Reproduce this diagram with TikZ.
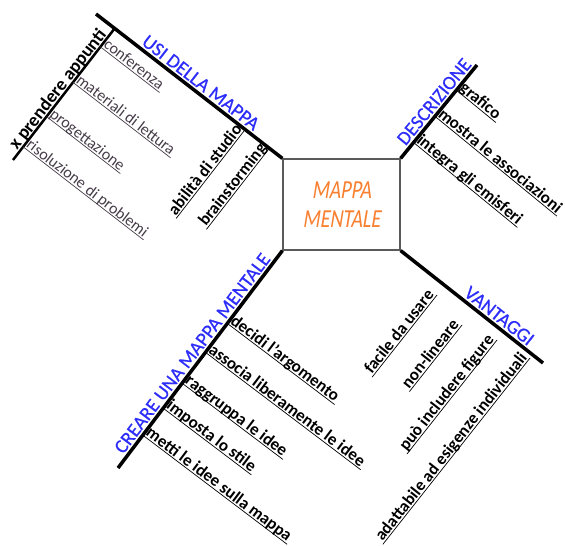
\documentclass[tikz,border=0pt]{standalone}
\usepackage{fontspec}
\setmainfont{Carlito}
\newfontfamily\corsivo[FakeSlant=0.21]{Carlito}
\newfontfamily\titfont[FakeBold=0.5]{Carlito}
\usetikzlibrary{calc}
\definecolor{blu}{RGB}{45,45,250}
\definecolor{arancio}{RGB}{248,128,48}
\definecolor{grigio}{RGB}{70,60,72}
\definecolor{bordo}{RGB}{90,90,90}
\newcommand{\altezza}[1]{\scalebox{1}[1.3]{#1}}
\tikzset{
ramo/.style={line width=3.5pt},
titolo/.style={text=blu,font=\titfont\fontsize{19.5}{20}\selectfont,anchor=south,inner sep=3.5pt,text depth=0pt},
voce/.style={font=\bfseries\fontsize{17}{18}\selectfont,inner sep=1.5pt,text depth=0pt,
  append after command={(\tikzlastnode.south west) edge[draw=#1,line width=.7pt] (\tikzlastnode.south east)}},
voce/.default=black,
voce2/.style={voce=grigio,font=\fontsize{16}{17}\selectfont,text=grigio}
}
\begin{document}
\begin{tikzpicture}[x=1pt,y=1pt]
\useasboundingbox (0,0) rectangle (565,546);
\node[draw=bordo,line width=1.2pt,minimum width=117pt,minimum height=91pt,text=arancio,
  font=\corsivo\fontsize{20}{29}\selectfont,align=center] (centro) at (341.5,341.5) {\altezza{MAPPA}\\\altezza{MENTALE}};
\coordinate (usi) at (96,532);
\coordinate (descr) at (477,481);
\coordinate (vant) at (543,183);
\coordinate (crea) at (118,78);
\draw[ramo] (centro.north west)--(usi);
\draw[ramo] (centro.north east)--(descr);
\draw[ramo] (centro.south east)--(vant);
\draw[ramo] (centro.south west)--(crea);
\node[titolo,rotate=-37.8] (tusi) at ($(usi)!.53!(centro.north west)$) {USI DELLA MAPPA};
\node[titolo,rotate=50.7] (tdescr) at ($(centro.north east)!.54!(descr)$) {DESCRIZIONE};
\node[titolo,rotate=-38.3] (tvant) at ($(centro.south east)!.65!(vant)$) {VANTAGGI};
\node[titolo,rotate=52.9] (tcrea) at ($(centro.south west)!.5!(crea)$) {CREARE UNA MAPPA MENTALE};
\coordinate (app1) at ($(usi)!.1!(centro.north west)$);
\coordinate (app2) at (13,386);
\draw[line width=2.5pt] (app1)--(app2);
\node[font=\bfseries\fontsize{18.5}{19}\selectfont,anchor=south,rotate=52.3,inner sep=2pt,text depth=0pt] (appunti) at ($(app1)!.5!(app2)$) {x prendere appunti};
\node[voce2,anchor=south west,rotate=-37.7] (conf) at ($(app1)!.14!(app2)$) {conferenza};
\node[voce2,anchor=south west,rotate=-37.7] (mat) at ($(app1)!.41!(app2)$) {materiali di lettura};
\node[voce2,anchor=south west,rotate=-37.7] (prog) at ($(app1)!.67!(app2)$) {progettazione};
\node[voce2,anchor=south west,rotate=-37.7] (ris) at ($(app1)!.90!(app2)$) {risoluzione di problemi};
\node[voce,anchor=south east,rotate=52.2] (abil) at ($(usi)!.80!(centro.north west)$) {abilità di studio};
\node[voce,anchor=south east,rotate=52.2] (brain) at ($(usi)!.93!(centro.north west)$) {brainstorming};
\node[voce,anchor=south west,rotate=-39.3] (graf) at ($(centro.north east)!.73!(descr)$) {grafico};
\node[voce,anchor=south west,rotate=-39.3] (most) at ($(centro.north east)!.45!(descr)$) {mostra le associazioni};
\node[voce,anchor=south west,rotate=-39.3] (integ) at ($(centro.north east)!.17!(descr)$) {integra gli emisferi};
\node[voce,anchor=south east,rotate=51.7] (facile) at (437,251) {facile da usare};
\node[voce,anchor=south east,rotate=51.7] (nonlin) at (462,221) {non-lineare};
\node[voce,anchor=south east,rotate=51.7] (figure) at (497,206) {può includere figure};
\node[voce,anchor=south east,rotate=51.7] (adatt) at (530,188) {adattabile ad esigenze individuali};
\node[voce,anchor=south west,rotate=-37.1] (decidi) at ($(centro.south west)!.335!(crea)$) {decidi l'argomento};
\node[voce,anchor=south west,rotate=-37.1] (associa) at ($(centro.south west)!.468!(crea)$) {associa liberamente le idee};
\node[voce,anchor=south west,rotate=-37.1] (raggr) at ($(centro.south west)!.61!(crea)$) {raggruppa le idee};
\node[voce,anchor=south west,rotate=-37.1] (imposta) at ($(centro.south west)!.725!(crea)$) {imposta lo stile};
\node[voce,anchor=south west,rotate=-37.1] (metti) at ($(centro.south west)!.849!(crea)$) {metti le idee sulla mappa};
\end{tikzpicture}
\end{document}
